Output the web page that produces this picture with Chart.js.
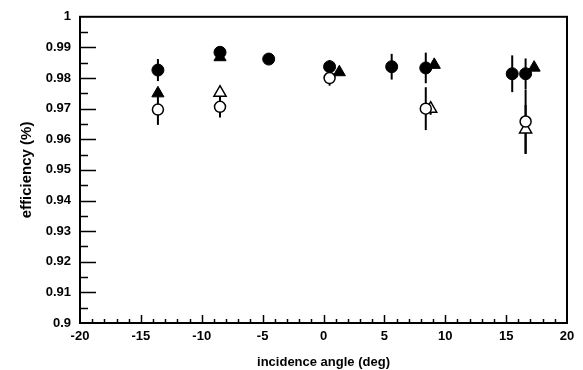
<!DOCTYPE html>
<html>
<head>
<meta charset="utf-8">
<script src="https://cdn.jsdelivr.net/npm/chart.js@4/dist/chart.umd.min.js"></script>
<style>
  html, body { margin: 0; padding: 0; background: #fff; }
  #wrap { width: 583px; height: 370px; }
</style>
</head>
<body>
<div id="wrap"><canvas id="effChart"></canvas></div>
<script>
// data
const fullCircleX = [-13.6, -8.5, -4.5, 0.5, 5.6, 8.4, 15.5, 16.6];
const fullCircleY = [0.9826, 0.9884, 0.9862, 0.9837, 0.9837, 0.9833, 0.9814, 0.9814];
const fullCircleErr = [0.0036, 0.0012, 0.0008, 0.0022, 0.0042, 0.005, 0.006, 0.005];

const fullTriX = [-13.6, -8.5, 1.3, 9.1, 17.3];
const fullTriY = [0.9750, 0.9868, 0.9819, 0.9843, 0.9834];
const fullTriErr = [0.001, 0.001, 0.001, 0.001, 0.001];

const openCircleX = [-13.6, -8.5, 0.5, 8.4, 16.6];
const openCircleY = [0.9697, 0.9706, 0.9800, 0.9700, 0.9658];
const openCircleErr = [0.005, 0.0035, 0.0025, 0.007, 0.0105];

const openTriX = [-8.5, 8.8, 16.6];
const openTriY = [0.9752, 0.9700, 0.9632];
const openTriErr = [0.002, 0.002, 0.008];

const xTicks = [-20, -15, -10, -5, 0, 5, 10, 15, 20];

function pts(xs, ys, errs) {
    return xs.map((x, i) => ({ x: x, y: ys[i], err: errs[i] }));
}

// error bars + inward tick marks + frame
const extras = {
    id: 'extras',
    beforeDatasetsDraw(chart) {
        const c = chart.ctx;
        const xs = chart.scales.x, ys = chart.scales.y;
        c.save();
        c.strokeStyle = '#000';
        c.lineWidth = 2;
        chart.data.datasets.forEach(ds => {
            ds.data.forEach(p => {
                const px = xs.getPixelForValue(p.x);
                c.beginPath();
                c.moveTo(px, ys.getPixelForValue(p.y - p.err));
                c.lineTo(px, ys.getPixelForValue(p.y + p.err));
                c.stroke();
            });
        });
        c.restore();
    },
    afterDraw(chart) {
        const c = chart.ctx;
        const a = chart.chartArea;
        const xs = chart.scales.x, ys = chart.scales.y;
        c.save();
        c.strokeStyle = '#000';
        c.lineWidth = 2;
        c.strokeRect(a.left, a.top, a.right - a.left, a.bottom - a.top);
        c.lineWidth = 1.5;
        // y ticks
        for (let i = 1; i < 20; i++) {
            const v = 0.9 + i * 0.005;
            const py = Math.round(ys.getPixelForValue(v)) + 0.5;
            const len = (i % 2 === 0) ? 16 : 8;
            c.beginPath();
            c.moveTo(a.left, py);
            c.lineTo(a.left + len, py);
            c.stroke();
        }
        // x ticks
        for (let v = -19; v < 20; v++) {
            const px = Math.round(xs.getPixelForValue(v)) + 0.5;
            const len = (v % 5 === 0) ? 8 : 4;
            c.beginPath();
            c.moveTo(px, a.bottom);
            c.lineTo(px, a.bottom - len);
            c.stroke();
        }
        c.restore();
    }
};

const tickFont = { family: 'Liberation Sans, Arial, sans-serif', size: 13, weight: 'bold' };
const xTitleFont = { family: 'Liberation Sans, Arial, sans-serif', size: 13, weight: 'bold' };
const yTitleFont = { family: 'Liberation Sans, Arial, sans-serif', size: 15, weight: 'bold' };

new Chart(document.getElementById('effChart'), {
    type: 'scatter',
    data: {
        datasets: [
            {
                label: 'open circle',
                data: pts(openCircleX, openCircleY, openCircleErr),
                pointStyle: 'circle', pointRadius: 5.5,
                backgroundColor: '#fff', borderColor: '#000', borderWidth: 1.5
            },
            {
                label: 'open triangle',
                data: pts(openTriX, openTriY, openTriErr),
                pointStyle: 'triangle', pointRadius: 7,
                backgroundColor: '#fff', borderColor: '#000', borderWidth: 1.5
            },
            {
                label: 'full circle',
                data: pts(fullCircleX, fullCircleY, fullCircleErr),
                pointStyle: 'circle', pointRadius: 6,
                backgroundColor: '#000', borderColor: '#000', borderWidth: 1
            },
            {
                label: 'full triangle',
                data: pts(fullTriX, fullTriY, fullTriErr),
                pointStyle: 'triangle', pointRadius: 7,
                backgroundColor: '#000', borderColor: '#000', borderWidth: 1
            }
        ]
    },
    options: {
        responsive: true,
        maintainAspectRatio: false,
        animation: false,
        layout: { padding: { top: 10, right: 16, left: 18, bottom: 0 } },
        plugins: {
            legend: { display: false },
            tooltip: { enabled: false }
        },
        scales: {
            x: {
                type: 'linear',
                min: -20, max: 20,
                afterFit(scale) { scale.height = 47; },
                afterBuildTicks(scale) { scale.ticks = xTicks.map(v => ({ value: v })); },
                grid: { display: false, drawTicks: false },
                border: { display: false },
                ticks: { color: '#000', font: tickFont, padding: 6, maxRotation: 0 },
                title: { display: true, text: 'incidence angle (deg)', color: '#000', font: xTitleFont, padding: { top: 3, bottom: 0 } }
            },
            y: {
                min: 0.9, max: 1,
                afterFit(scale) { scale.width = 62; },
                afterBuildTicks(scale) {
                    const t = [];
                    for (let i = 0; i <= 10; i++) t.push({ value: 0.9 + i * 0.01 });
                    scale.ticks = t;
                },
                grid: { display: false, drawTicks: false },
                border: { display: false },
                ticks: {
                    color: '#000', font: tickFont, padding: 9,
                    callback: v => String(Number(v.toFixed(2)))
                },
                title: { display: true, text: 'efficiency (%)', color: '#000', font: yTitleFont, padding: { top: 0, bottom: 4 } }
            }
        }
    },
    plugins: [extras]
});
</script>
</body>
</html>
